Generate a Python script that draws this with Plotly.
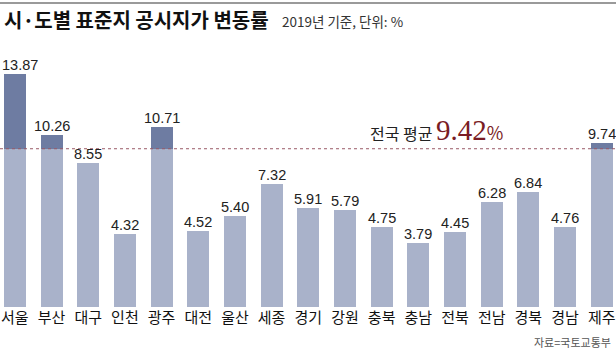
import plotly.graph_objects as go

regions = ["서울", "부산", "대구", "인천", "광주", "대전", "울산", "세종", "경기",
           "강원", "충북", "충남", "전북", "전남", "경북", "경남", "제주"]
rates = [13.87, 10.26, 8.55, 4.32, 10.71, 4.52, 5.40, 7.32, 5.91,
         5.79, 4.75, 3.79, 4.45, 6.28, 6.84, 4.76, 9.74]
national_avg = 9.42

title_text = "시·도별 표준지 공시지가 변동률"
subtitle_text = "2019년 기준, 단위: %"
source_text = "자료=국토교통부"

W, H = 616, 351
T, B = 10, 44
PH = H - T - B
PX_PER_UNIT = 16.8
STEP = 36.68
X0 = -14.85 / STEP
X1 = X0 + W / STEP

def py(pix):
    return (H - B - pix) / PH

KR = "Noto Sans CJK KR, Noto Sans, sans-serif"
NUM = "Liberation Sans Narrow, Liberation Sans, Arial, sans-serif"

light = "#a9b2ca"
dark = "#6e7ca2"

base = [min(v, national_avg) for v in rates]
top = [max(v - national_avg, 0) for v in rates]

fig = go.Figure()
fig.add_bar(x=regions, y=base, marker=dict(color=light, line=dict(width=0)),
            hoverinfo="skip")
fig.add_bar(x=regions, y=top, marker=dict(color=dark, line=dict(width=0)),
            hoverinfo="skip")

# value labels above bars (first one kept inside the left edge)
for i, (r, v) in enumerate(zip(regions, rates)):
    kw = dict(xref="x", x=r, xanchor="center")
    if i == 0:
        kw = dict(xref="paper", x=0, xanchor="left")
    fig.add_annotation(yref="y", y=v, yanchor="bottom", showarrow=False,
                       text=f"{v:.2f}", yshift=-1,
                       font=dict(family=NUM, size=14.5, color="#222222"), **kw)

fig.add_shape(type="line", xref="paper", yref="y", x0=0, x1=1,
              y0=national_avg, y1=national_avg,
              line=dict(color="#9a5a66", width=1, dash="dot"), layer="above")
fig.add_shape(type="line", xref="paper", yref="paper", x0=0, x1=1,
              y0=py(3), y1=py(3), line=dict(color="#9a9a9a", width=2))

fig.add_annotation(xref="x", yref="y", x=X0 + 505 / STEP, y=national_avg,
                   xanchor="right", yanchor="bottom", yshift=1, showarrow=False,
                   text="전국 평균 <span style='font-family:Liberation Serif;font-size:29px;color:#7a1c24'>"
                        + f"{national_avg:.2f}" +
                        "</span><span style='font-size:18px;color:#7a1c24'>%</span>",
                   font=dict(family=KR, size=16, color="#222222"))

fig.add_annotation(xref="paper", yref="paper", x=2 / W, y=py(20),
                   xanchor="left", yanchor="middle", showarrow=False,
                   text="<b>" + title_text + "</b>",
                   font=dict(family=KR, size=20, color="#111111"))
fig.add_annotation(xref="paper", yref="paper", x=280 / W, y=py(21),
                   xanchor="left", yanchor="middle", showarrow=False,
                   text=subtitle_text,
                   font=dict(family=KR, size=13.5, color="#333333"))
fig.add_annotation(xref="paper", yref="paper", x=613 / W, y=py(342),
                   xanchor="right", yanchor="middle", showarrow=False,
                   text=source_text,
                   font=dict(family=KR, size=11, color="#555555"))

fig.update_layout(
    width=W, height=H, barmode="stack", bargap=0.40, showlegend=False,
    margin=dict(l=0, r=0, t=T, b=B), plot_bgcolor="white", paper_bgcolor="white",
    xaxis=dict(range=[X0, X1], showgrid=False, zeroline=False, showline=False,
               ticks="", tickfont=dict(family=KR, size=15, color="#111111"),
               fixedrange=True),
    yaxis=dict(range=[0, PH / PX_PER_UNIT], visible=False, fixedrange=True),
)

fig.write_html("out.html")
